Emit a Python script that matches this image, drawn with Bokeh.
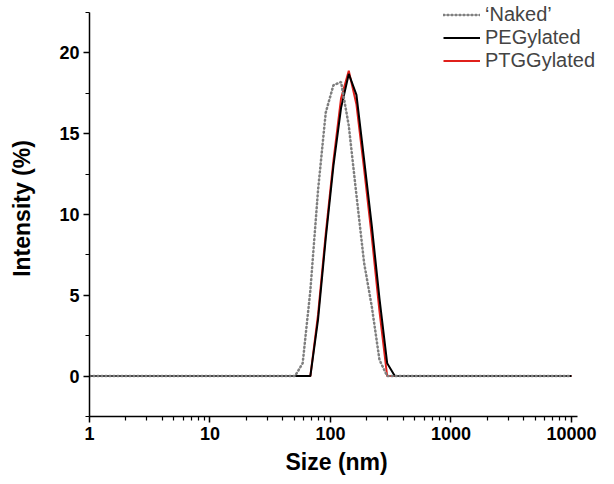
from bokeh.plotting import figure
from bokeh.models import (Range1d, FixedTicker, CustomJSTickFormatter, Legend, LegendItem,
                          ColumnDataSource, Title)
from bokeh.embed import file_html
from bokeh.resources import INLINE

# Size bins (nm) and intensities (%)
size_nm = [1, 50.75, 58.77, 68.06, 78.82, 91.28, 105.7, 122.4, 141.8, 164.2,
           190.1, 220.2, 255.0, 295.3, 342.0, 10000]
naked = [0, 0, 0.8, 5.3, 11.5, 16.3, 18.0, 18.2, 15.5, 11.2,
         7.0, 4.3, 1.0, 0, 0, 0]
pegylated = [0, 0, 0, 0, 3.5, 8.5, 13.0, 16.6, 18.7, 17.4,
             13.4, 9.3, 4.8, 0.8, 0, 0]
ptggylated = [0, 0, 0, 0, 3.8, 8.8, 13.3, 17.2, 18.9, 16.8,
              12.8, 8.6, 4.0, 0, 0, 0]

x_ticks = [1, 10, 100, 1000, 10000]
y_ticks = [0, 5, 10, 15, 20]
labels = ["\u2018Naked\u2019", "PEGylated", "PTGGylated"]
x_title = "Size (nm)"
y_title = "Intensity (%)"

FONT = "Liberation Sans"

# frame runs to the page's right/top edge so the legend is not clipped;
# the axes themselves are limited with 'bounds'
p = figure(width=614, height=482, x_axis_type="log",
           x_range=Range1d(1, 22746), y_range=Range1d(-2.5, 23.243),
           frame_width=525, frame_height=416,
           min_border_left=89, min_border_top=0, min_border_bottom=4, min_border_right=0,
           output_backend="svg", toolbar_location=None)

p.grid.visible = False
p.outline_line_color = None
p.background_fill_color = "white"
p.border_fill_color = "white"

src = ColumnDataSource(dict(x=size_nm, naked=naked, peg=pegylated, ptgg=ptggylated))

r_ptgg = p.line("x", "ptgg", source=src, line_color="#e0201b", line_width=2)
r_peg = p.line("x", "peg", source=src, line_color="black", line_width=2)
r_naked = p.line("x", "naked", source=src, line_color="#7f7f7f", line_width=2.5,
                 line_dash="1 3", line_cap="round")

# axes
xa = p.xaxis[0]
xa.ticker = FixedTicker(ticks=x_ticks,
                        minor_ticks=[m * d for d in x_ticks[:-1] for m in range(2, 10)])
xa.formatter = CustomJSTickFormatter(code="return tick.toFixed(0);")
xa.bounds = (1, 11200)
ya = p.yaxis[0]
ya.ticker = FixedTicker(ticks=y_ticks, minor_ticks=[-2.5 + 2.5 * i for i in range(11)])
ya.bounds = (-2.5, 22.5)

for ax in (xa, ya):
    ax.axis_line_width = 1.5
    ax.major_tick_line_width = 1.5
    ax.minor_tick_line_width = 1.2
    ax.major_tick_in = 0
    ax.major_tick_out = 6
    ax.minor_tick_in = 0
    ax.minor_tick_out = 4
    ax.major_label_text_font = FONT
    ax.major_label_text_font_style = "bold"
    ax.major_label_text_font_size = "18px"
    ax.major_label_text_color = "black"
    ax.axis_label_text_font = FONT
    ax.axis_label_text_font_style = "bold"
    ax.axis_label_text_font_size = "23px"
    ax.axis_label_text_color = "black"
    ax.major_label_standoff = 4

ya.axis_label = y_title
ya.axis_label_standoff = 21

# x title centred under the visible axis (not under the widened frame)
xt = Title(text=x_title, align="left", offset=196, standoff=9,
           text_font=FONT, text_font_style="bold", text_font_size="23px",
           text_color="black")
p.add_layout(xt, "below")

# one single-entry legend per series, so the rows can be placed individually
renderers = [r_naked, r_peg, r_ptgg]
legend_y = [390, 367, 344]
for lab, r, ly in zip(labels, renderers, legend_y):
    lg = Legend(items=[LegendItem(label=lab, renderers=[r])],
                location=(354, ly), border_line_color=None, background_fill_alpha=0,
                padding=0, margin=0, spacing=0, glyph_width=37, glyph_height=21,
                label_height=21, label_standoff=5,
                label_text_font=FONT, label_text_font_size="20px")
    p.add_layout(lg, "center")

open("out.html", "w").write(file_html(p, INLINE))
